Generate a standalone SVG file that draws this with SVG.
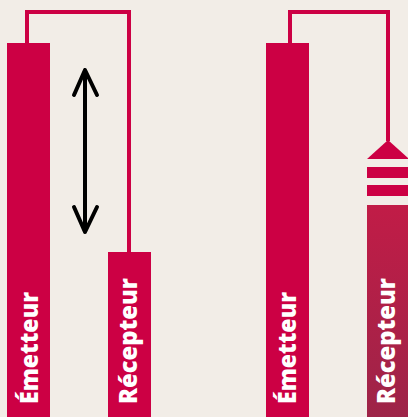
<svg xmlns="http://www.w3.org/2000/svg" width="408" height="417" viewBox="0 0 408 417">
<defs>
<style>
.bar{fill:#cc0044}
.wire{fill:none;stroke:#cc0044;stroke-width:4;stroke-linejoin:miter}
.lbl{fill:#ffffff;font-family:"Open Sans","DejaVu Sans",sans-serif;font-weight:800;font-size:25px}
.arr{fill:none;stroke:#000;stroke-width:4;stroke-linecap:round;stroke-linejoin:round}
</style>
<linearGradient id="g" x1="0" y1="0" x2="0" y2="1">
<stop offset="0" stop-color="#c11c47"/>
<stop offset="1" stop-color="#9d2448"/>
</linearGradient>
</defs>
<rect width="408" height="417" fill="#f2ede7"/>
<g id="connectors">
<path class="wire" d="M27 44 V12 H129 V253"/>
<path class="wire" d="M290 44 V12 H388 V141"/>
<g id="distance-arrow">
<path class="arr" d="M85 70 V232 M74 95 L85 70 L97 95 M74 207 L85 232 L97 207"/>
</g>
</g>
<g id="emetteur-1">
<rect class="bar" x="7" y="43" width="43" height="374"/>
<text class="lbl" transform="translate(38 404) rotate(-90)" textLength="112" lengthAdjust="spacingAndGlyphs">Émetteur</text>
</g>
<g id="recepteur-1">
<rect class="bar" x="108" y="252" width="43" height="165"/>
<text class="lbl" transform="translate(137 404) rotate(-90)" textLength="126" lengthAdjust="spacingAndGlyphs">Récepteur</text>
</g>
<g id="emetteur-2">
<rect class="bar" x="266" y="43" width="43" height="374"/>
<text class="lbl" transform="translate(296 404) rotate(-90)" textLength="112" lengthAdjust="spacingAndGlyphs">Émetteur</text>
</g>
<g id="recepteur-2">
<polygon class="bar" points="388,140 409,159 367,159"/>
<rect class="bar" x="367" y="167" width="43" height="11"/>
<rect class="bar" x="367" y="185" width="43" height="11"/>
<rect x="367" y="205" width="43" height="212" fill="url(#g)"/>
<text class="lbl" transform="translate(395 404) rotate(-90)" textLength="126" lengthAdjust="spacingAndGlyphs">Récepteur</text>
</g>
</svg>
